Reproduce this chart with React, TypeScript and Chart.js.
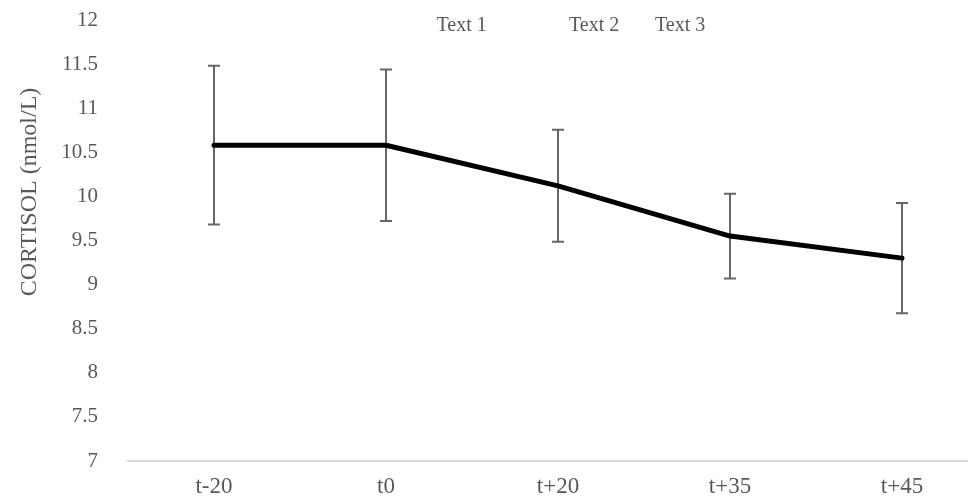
import React, { useEffect, useRef } from "react";
import { Chart, registerables } from "chart.js";

Chart.register(...registerables);

const categories = ["t-20", "t0", "t+20", "t+35", "t+45"];
const cortisol = [10.58, 10.58, 10.12, 9.55, 9.3];
const errors = [0.9, 0.86, 0.635, 0.48, 0.625];
const yTicks = [7, 7.5, 8, 8.5, 9, 9.5, 10, 10.5, 11, 11.5, 12];
const noteLabels = ["Text 1", "Text 2", "Text 3"];
const noteX = [1.44, 2.21, 2.71];
const noteY = [11.93, 11.93, 11.93];
const yTitle = "CORTISOL (nmol/L)";

const FONT = "'Liberation Serif', 'Times New Roman', serif";
const TEXT = "#595959";

const errorBarPlugin = {
  id: "errorBars",
  beforeDatasetsDraw(chart: any) {
    const { ctx, scales } = chart;
    const xs = scales.x;
    const ys = scales.y;
    ctx.save();
    ctx.strokeStyle = "#666666";
    ctx.lineWidth = 2;
    const cap = 6;
    cortisol.forEach((v, i) => {
      const x = xs.getPixelForValue(i);
      const yTop = ys.getPixelForValue(v + errors[i]);
      const yBot = ys.getPixelForValue(v - errors[i]);
      ctx.beginPath();
      ctx.moveTo(x, yTop);
      ctx.lineTo(x, yBot);
      ctx.moveTo(x - cap, yTop);
      ctx.lineTo(x + cap, yTop);
      ctx.moveTo(x - cap, yBot);
      ctx.lineTo(x + cap, yBot);
      ctx.stroke();
    });
    ctx.restore();
  },
};

const textPlugin = {
  id: "notes",
  afterDraw(chart: any) {
    const { ctx, scales, chartArea } = chart;
    const xs = scales.x;
    const ys = scales.y;
    ctx.save();
    ctx.fillStyle = TEXT;
    ctx.font = `20px ${FONT}`;
    ctx.textAlign = "center";
    ctx.textBaseline = "middle";
    noteLabels.forEach((t, i) => {
      const x = xs.getPixelForValue(noteX[i]);
      const y = ys.getPixelForValue(noteY[i]);
      ctx.fillText(t, x, y);
    });
    // y-axis title
    ctx.font = `24px ${FONT}`;
    ctx.translate(30, chartArea.top + (chartArea.bottom - chartArea.top) * 0.39);
    ctx.rotate(-Math.PI / 2);
    ctx.fillText(yTitle, 0, 0);
    ctx.restore();
  },
};

export default function App() {
  const ref = useRef<HTMLCanvasElement | null>(null);
  useEffect(() => {
    document.body.style.margin = "0";
    document.body.style.overflow = "hidden";
    const chart = new Chart(ref.current as HTMLCanvasElement, {
      type: "line",
      data: {
        labels: categories,
        datasets: [
          {
            data: cortisol,
            borderColor: "#000000",
            borderWidth: 5,
            pointRadius: 0,
            tension: 0,
            borderCapStyle: "round",
            borderJoinStyle: "round",
          },
        ],
      },
      options: {
        animation: false,
        responsive: false,
        layout: { padding: { top: 20, right: 2, left: 0, bottom: 0 } },
        plugins: { legend: { display: false }, tooltip: { enabled: false } },
        scales: {
          x: {
            type: "category",
            offset: true,
            grid: { display: false },
            border: { display: true, color: "#d9d9d9", width: 2 },
            ticks: {
              color: TEXT,
              font: { family: FONT, size: 23 },
              padding: 4,
              maxRotation: 0,
            },
            afterFit(scale: any) {
              scale.height = 35;
              scale.paddingLeft = 0;
              scale.paddingRight = 0;
            },
          },
          y: {
            min: 7,
            max: 12,
            grid: { display: false },
            border: { display: false },
            afterBuildTicks(scale: any) {
              scale.ticks = yTicks.map((v) => ({ value: v }));
            },
            ticks: {
              color: TEXT,
              font: { family: FONT, size: 21 },
              padding: 22,
              callback: (v: any) => String(v),
            },
            afterFit(scale: any) {
              scale.width = 128;
              scale.paddingTop = 0;
              scale.paddingBottom = 0;
            },
          },
        },
      },
      plugins: [errorBarPlugin, textPlugin],
    } as any);
    return () => chart.destroy();
  }, []);
  return (
    <div style={{ position: "fixed", left: 0, top: 0, width: 968, height: 496, overflow: "hidden", background: "#fff" }}>
      <canvas ref={ref} width={990} height={496} style={{ display: "block" }} />
    </div>
  );
}
